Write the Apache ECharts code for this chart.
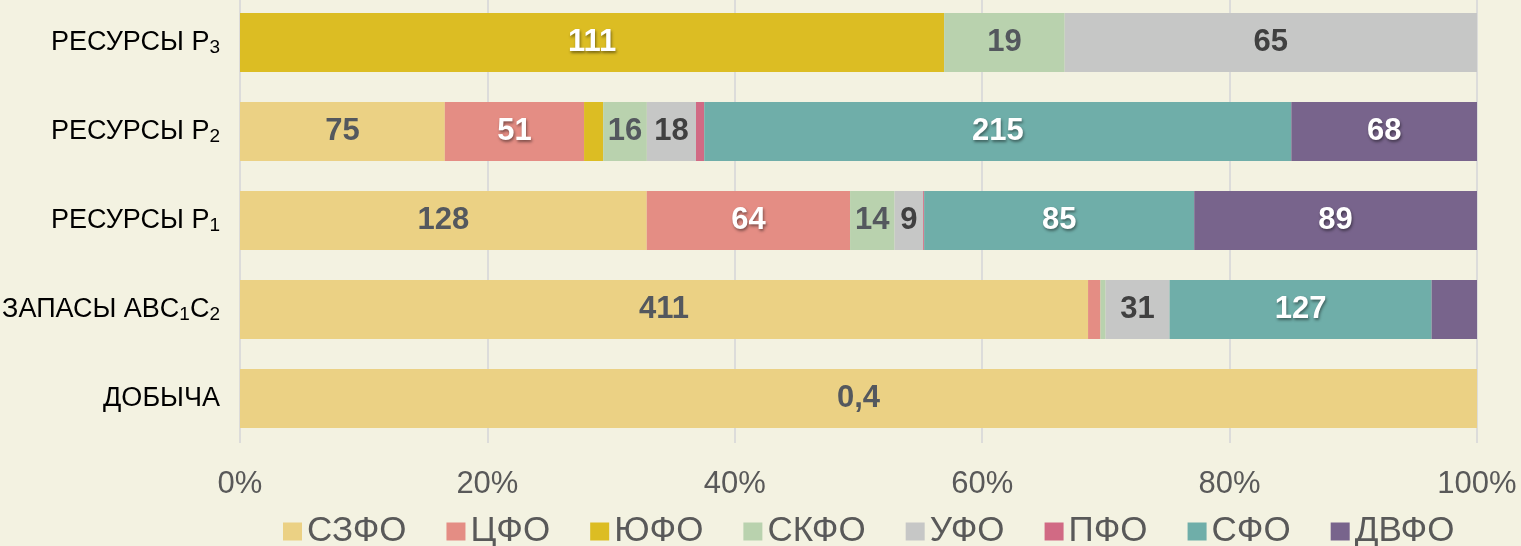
<!DOCTYPE html>
<html>
<head>
<meta charset="utf-8">
<script src="https://cdn.jsdelivr.net/npm/echarts@6/dist/echarts.min.js"></script>
<style>
html, body { margin: 0; padding: 0; background: #F3F2E1; }
#chart { width: 1521px; height: 546px; }
</style>
</head>
<body>
<div id="chart"></div>
<script>
// categories, bottom to top
const categories = ['ДОБЫЧА', 'ЗАПАСЫ ABC1C2', 'РЕСУРСЫ P1', 'РЕСУРСЫ P2', 'РЕСУРСЫ P3']
const categoryRich = {
    'ДОБЫЧА': 'ДОБЫЧА',
    'ЗАПАСЫ ABC1C2': 'ЗАПАСЫ ABC{s|1}C{s|2}',
    'РЕСУРСЫ P1': 'РЕСУРСЫ P{s|1}',
    'РЕСУРСЫ P2': 'РЕСУРСЫ P{s|2}',
    'РЕСУРСЫ P3': 'РЕСУРСЫ P{s|3}'
}

const districts = ['СЗФО', 'ЦФО', 'ЮФО', 'СКФО', 'УФО', 'ПФО', 'СФО', 'ДВФО']

// values per district, same order as categories
const szfo = [0.4, 411, 128, 75, 0]
const cfo = [0, 6, 64, 51, 0]
const yufo = [0, 0, 0, 7, 111]
const skfo = [0, 2.5, 14, 16, 19]
const ufo = [0, 31, 9, 18, 65]
const pfo = [0, 0, 0.3, 3, 0]
const sfo = [0, 127, 85, 215, 0]
const dvfo = [0, 22, 89, 68, 0]

// segments drawn without a number: [district index, category index]
const unlabeled = [[2, 3], [5, 3], [5, 2], [1, 1], [3, 1], [7, 1]]

const xTicks = [0, 20, 40, 60, 80, 100]

const colors = ['#EBD184', '#E48D84', '#DCBD23', '#B9D2AE', '#C6C7C6', '#D16A84', '#6FAEA9', '#78648C']
const labelColors = ['#54585E', '#fff', '#fff', '#54585E', '#404040', '#fff', '#fff', '#fff']

const all = [szfo, cfo, yufo, skfo, ufo, pfo, sfo, dvfo]
const totals = categories.map((c, i) => all.reduce((s, arr) => s + arr[i], 0))

const font = '"Liberation Sans", Arial, sans-serif'

const series = districts.map((name, k) => ({
    name: name,
    type: 'bar',
    stack: 'total',
    barWidth: 59,
    itemStyle: { color: colors[k] },
    data: all[k].map((v, i) => ({
        value: v / totals[i] * 100,
        raw: v,
        label: {
            show: v > 0 && !unlabeled.some(p => p[0] === k && p[1] === i)
        }
    })),
    label: {
        position: 'inside',
        fontFamily: font,
        fontWeight: 'bold',
        fontSize: 31,
        color: labelColors[k],
        textBorderWidth: 0,
        textShadowColor: labelColors[k] === '#fff' ? 'rgba(0,0,0,0.45)' : 'transparent',
        textShadowBlur: 3,
        textShadowOffsetX: 1,
        textShadowOffsetY: 2,
        formatter: p => String(p.data.raw).replace('.', ',')
    }
}))

const myCharts = echarts.init(document.getElementById('chart'))
myCharts.setOption({
    backgroundColor: '#F3F2E1',
    animation: false,
    grid: {
        left: 240,
        right: 44,
        top: -2,
        bottom: 103,
        containLabel: false,
        outerBoundsMode: 'none'
    },
    xAxis: {
        type: 'value',
        min: xTicks[0],
        max: xTicks[xTicks.length - 1],
        interval: 20,
        axisLine: { show: false },
        axisTick: { show: false },
        splitLine: {
            lineStyle: { color: '#DCDCDA', width: 2 }
        },
        axisLabel: {
            margin: 26,
            fontFamily: font,
            fontSize: 31,
            color: '#595959',
            formatter: '{value}%'
        }
    },
    yAxis: {
        type: 'category',
        data: categories,
        axisLine: { show: false },
        axisTick: { show: false },
        axisLabel: {
            margin: 20,
            fontFamily: font,
            fontSize: 27,
            color: '#000',
            lineHeight: 30,
            formatter: v => categoryRich[v],
            rich: {
                s: {
                    fontFamily: font,
                    fontSize: 19,
                    color: '#000',
                    lineHeight: 14,
                    verticalAlign: 'bottom'
                }
            }
        }
    },
    legend: {
        left: 278,
        top: 509,
        itemWidth: 19,
        itemHeight: 18,
        itemGap: 40,
        icon: 'rect',
        textStyle: {
            fontFamily: font,
            fontSize: 35,
            color: '#595959'
        },
        data: districts
    },
    series: series
})
</script>
</body>
</html>
